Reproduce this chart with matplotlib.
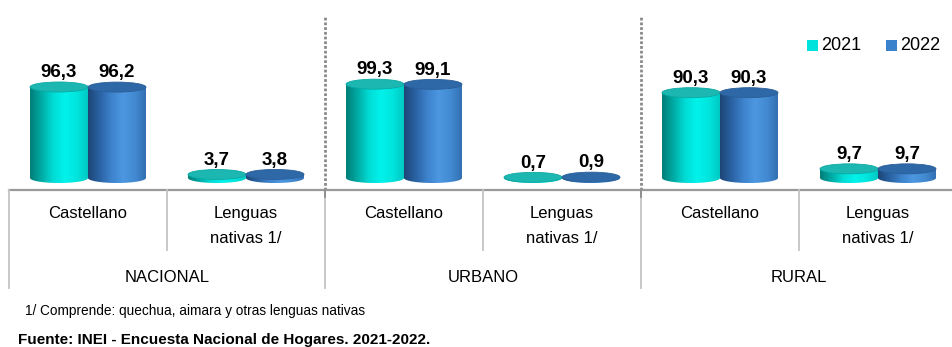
import numpy as np
import matplotlib
matplotlib.use('Agg')
import matplotlib.pyplot as plt
from matplotlib.path import Path
from matplotlib.patches import Ellipse, Rectangle
from matplotlib.colors import LinearSegmentedColormap
from matplotlib.lines import Line2D

# Datos: población según lengua materna (%)
grupos = ["NACIONAL", "URBANO", "RURAL"]
lenguas = ["Castellano", "Lenguas\nnativas 1/"]
anios = ["2021", "2022"]
valores_2021 = [96.3, 3.7, 99.3, 0.7, 90.3, 9.7]
valores_2022 = [96.2, 3.8, 99.1, 0.9, 90.3, 9.7]

FUENTE = ['Liberation Sans', 'DejaVu Sans']

W, H = 953, 347
fig = plt.figure(figsize=(W / 100, H / 100), dpi=100)
fig.patch.set_facecolor('white')

# ejes: x en unidades de categoría, y en porcentaje (base del cilindro en y=0)
left_px, right_px = 9, 957
base_px, top_px = 190, 10
px_per_unit = 0.945
y_min = -(base_px - 178) / px_per_unit
y_max = (178 - top_px) / px_per_unit
ax = fig.add_axes([left_px / W, 1 - base_px / H, (right_px - left_px) / W, (base_px - top_px) / H])
ax.set_xlim(0, 6)
ax.set_ylim(y_min, y_max)
ax.axis('off')

bar_w = 0.367
elip = 5.0 / px_per_unit  # semi-eje vertical de las elipses

estilos = {
    "2021": dict(body=["#007E79", "#00ABA5", "#00DCD5", "#00F2EB", "#00E6DF", "#00C9C3"],
                 top="#1DB7B2", edge="#0AA9A3", legend="#00E3DC"),
    "2022": dict(body=["#1D4675", "#2A62A3", "#3D82CC", "#4C97E0", "#438CD4", "#346FB2"],
                 top="#2E68A6", edge="#2A5F99", legend="#3A82CC"),
}


def cilindro(xc, h, estilo):
    xl, xr = xc - bar_w / 2, xc + bar_w / 2
    t = np.linspace(np.pi, 2 * np.pi, 60)
    arc = np.column_stack([xc + bar_w / 2 * np.cos(t), elip * np.sin(t)])
    verts = np.vstack([[xl, h], [xl, 0], arc, [xr, 0], [xr, h], [xl, h]])
    codes = [Path.MOVETO] + [Path.LINETO] * (len(verts) - 2) + [Path.CLOSEPOLY]
    body = Path(verts, codes)

    cmap = LinearSegmentedColormap.from_list("g", estilo["body"])
    grad = np.linspace(0, 1, 200)[None, :]
    im = ax.imshow(grad, cmap=cmap, extent=(xl, xr, -elip, h + elip),
                   aspect='auto', interpolation='bilinear', zorder=2)
    im.set_clip_path(body, ax.transData)

    ax.add_patch(Ellipse((xc, h), bar_w, 2 * elip, facecolor=estilo["top"],
                         edgecolor=estilo["edge"], linewidth=0.6, zorder=3))


for i in range(6):
    xc = i + 0.5
    for k, (anio, vals) in enumerate(zip(anios, [valores_2021, valores_2022])):
        x = xc + (k - 0.5) * bar_w
        v = vals[i]
        cilindro(x, v, estilos[anio])
        ax.text(x, v + elip + 0.8, f"{v:.1f}".replace(".", ","), ha='center', va='bottom',
                fontsize=13.5, fontweight='bold', family=FUENTE, color='black', zorder=4)

ax.set_xlim(0, 6)
ax.set_ylim(y_min, y_max)

# tabla de categorías bajo el eje
xt = ax.get_xaxis_transform()
axh = base_px - top_px


def fy(px):
    return -(px - base_px) / axh


# separadores punteados entre grupos
for g in (2, 4):
    ax.plot([g, g], [0, fy(17)], transform=xt, color='#8A8A8A',
            linewidth=2.0, linestyle=(0, (1.0, 0.7)), clip_on=False, zorder=1)

ax.add_line(Line2D([0, 6], [0, 0], transform=xt, color='#9A9A9A', linewidth=1.6, clip_on=False))
for g in (0, 2, 4):
    ax.add_line(Line2D([g, g], [0, fy(288)], transform=xt, color='#C4C4C4', linewidth=1.3, clip_on=False))
    ax.add_line(Line2D([g + 1, g + 1], [0, fy(250)], transform=xt, color='#C4C4C4', linewidth=1.3, clip_on=False))
for g in (2, 4):
    ax.add_line(Line2D([g, g], [0, fy(197)], transform=xt, color='#8A8A8A', linewidth=1.3, clip_on=False))

for i in range(6):
    for j, linea in enumerate(lenguas[i % 2].split("\n")):
        ax.text(i + 0.5, fy(214 + 25 * j), linea, transform=xt, ha='center', va='center',
                fontsize=12, family=FUENTE, clip_on=False)
for g, nombre in enumerate(grupos):
    ax.text(2 * g + 1, fy(278), nombre, transform=xt, ha='center', va='center',
            fontsize=12, family=FUENTE, clip_on=False)

# leyenda
for (x0, anio, tx) in [(807, "2021", 821), (886, "2022", 900)]:
    fig.add_artist(Rectangle((x0 / W, 1 - 51 / H), 11 / W, 11 / H, transform=fig.transFigure,
                             facecolor=estilos[anio]["legend"], edgecolor='none'))
    fig.text(tx / W, 1 - 45.5 / H, anio, ha='left', va='center', fontsize=13, family=FUENTE)

fig.text(25 / W, 1 - 311 / H, "1/ Comprende: quechua, aimara y otras lenguas nativas",
         ha='left', va='center', fontsize=9.8, family=FUENTE)
fig.text(18 / W, 1 - 340 / H, "Fuente: INEI - Encuesta Nacional de Hogares. 2021-2022.",
         ha='left', va='center', fontsize=11, fontweight='bold', family=FUENTE)

fig.savefig("out.png", dpi=100, facecolor='white')
